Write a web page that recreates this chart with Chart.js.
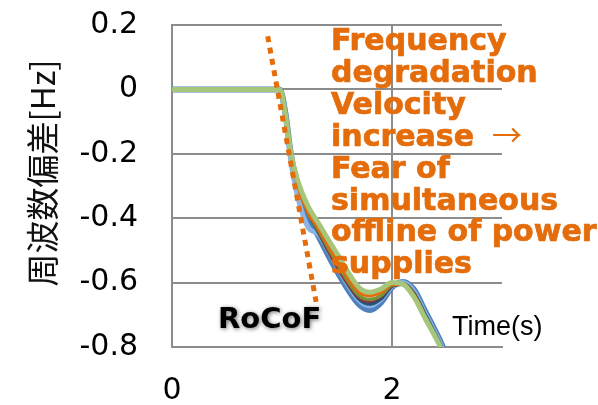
<!DOCTYPE html>
<html>
<head>
<meta charset="utf-8">
<script src="https://cdn.jsdelivr.net/npm/chart.js@4.4.1/dist/chart.umd.min.js"></script>
<style>
  html, body { margin: 0; padding: 0; background: #fff; }
  #wrap { width: 598px; height: 405px; position: relative; }
</style>
</head>
<body>
<div id="wrap"><canvas id="freqChart"></canvas></div>
<script>
// time axis (s) shared by all simulated cases
const TIME = [0, 0.5, 0.98, 1.03, 1.08, 1.14, 1.24, 1.33, 1.5, 1.7, 1.8, 1.9, 2.0, 2.1, 2.2, 2.3, 2.44, 2.6];

// frequency deviation [Hz] per case
const DF_LIGHT_GREEN = [0, 0, 0, -0.075, -0.195, -0.28, -0.365, -0.415, -0.51, -0.615, -0.63, -0.62, -0.60, -0.605, -0.645, -0.71, -0.80, -0.93];
const DF_ORANGE      = [0, 0, 0, -0.074, -0.2, -0.295, -0.385, -0.43, -0.53, -0.63, -0.64, -0.63, -0.605, -0.605, -0.64, -0.705, -0.80, -0.93];
const DF_OLIVE       = [0, 0, 0, -0.073, -0.195, -0.29, -0.378, -0.435, -0.54, -0.64, -0.652, -0.64, -0.608, -0.605, -0.638, -0.705, -0.80, -0.93];
const DF_RED         = [0, 0, 0, -0.072, -0.195, -0.29, -0.38, -0.44, -0.55, -0.645, -0.657, -0.642, -0.61, -0.605, -0.635, -0.705, -0.80, -0.93];
const DF_DARK_BLUE   = [0, 0, 0, -0.07, -0.19, -0.285, -0.375, -0.435, -0.545, -0.65, -0.665, -0.65, -0.61, -0.605, -0.635, -0.70, -0.795, -0.925];
const DF_TEAL        = [0, 0, 0, -0.07, -0.19, -0.29, -0.39, -0.445, -0.55, -0.652, -0.668, -0.65, -0.612, -0.603, -0.632, -0.698, -0.792, -0.92];
const DF_LIGHT_BLUE  = [0, 0, 0, -0.08, -0.22, -0.33, -0.43, -0.45, -0.55, -0.655, -0.672, -0.652, -0.612, -0.60, -0.628, -0.695, -0.79, -0.92];
const DF_BLUE        = [0, 0, 0, -0.072, -0.2, -0.3, -0.395, -0.455, -0.565, -0.668, -0.685, -0.662, -0.615, -0.598, -0.622, -0.688, -0.783, -0.91];

// RoCoF guide line (two end points)
const ROCOF_T  = [0.87, 1.31];
const ROCOF_DF = [0.165, -0.66];

const NOTE_LINES = ['Frequency', 'degradation', 'Velocity', 'increase', 'Fear of', 'simultaneous', 'offline of power', 'supplies'];

function series(label, values, color, width) {
  return {
    label: label,
    data: TIME.map((t, i) => ({ x: t, y: values[i] })),
    borderColor: color,
    borderWidth: width,
    pointRadius: 0,
    fill: false,
    cubicInterpolationMode: 'monotone',
    clip: 0
  };
}

const annotText = {
  id: 'annotText',
  afterDatasetsDraw(chart) {
    const ctx = chart.ctx;
    ctx.save();
    // orange note on the right (a thin stroke makes it a bit heavier)
    ctx.fillStyle = '#E46C0A';
    ctx.strokeStyle = '#E46C0A';
    ctx.lineWidth = 0.7;
    ctx.font = 'bold 30px "DejaVu Sans"';
    ctx.textAlign = 'left';
    ctx.textBaseline = 'alphabetic';
    NOTE_LINES.forEach((t, i) => {
      ctx.fillText(t, 331, 50 + i * 31.9);
      ctx.strokeText(t, 331, 50 + i * 31.9);
    });
    ctx.font = '30px "Noto Sans CJK JP"';
    ctx.fillText('\u2192', 492, 50 + 3 * 31.9);

    // Time(s)
    ctx.fillStyle = '#000';
    ctx.font = '27px "Liberation Sans"';
    ctx.fillText('Time(s)', 452, 335);

    // RoCoF with soft shadow
    ctx.save();
    ctx.shadowColor = 'rgba(0,0,0,0.55)';
    ctx.shadowBlur = 4;
    ctx.shadowOffsetX = 1;
    ctx.shadowOffsetY = 1;
    ctx.font = 'bold 29px "DejaVu Sans"';
    ctx.fillStyle = '#000';
    ctx.fillText('RoCoF', 218, 328);
    ctx.restore();

    // y axis title
    ctx.translate(42, 173);
    ctx.rotate(-Math.PI / 2);
    ctx.textAlign = 'center';
    ctx.textBaseline = 'middle';
    ctx.font = '33px "Noto Sans CJK JP"';
    ctx.fillStyle = '#111';
    ctx.fillText('周波数偏差[Hz]', 0, 0);
    ctx.restore();
  }
};

const rocof = {
  label: 'RoCoF',
  data: ROCOF_T.map((t, i) => ({ x: t, y: ROCOF_DF[i] })),
  borderColor: '#E46C0A',
  borderWidth: 5,
  borderDash: [6, 5.5],
  borderCapStyle: 'butt',
  pointRadius: 0,
  tension: 0,
  clip: false
};

new Chart(document.getElementById('freqChart'), {
  type: 'line',
  data: {
    datasets: [
      rocof,
      series('case 1', DF_LIGHT_GREEN, '#A6C77B', 5),
      series('case 2', DF_ORANGE, '#E46C0A', 3.5),
      series('case 3', DF_OLIVE, '#77933C', 3.5),
      series('case 4', DF_RED, '#943634', 3.5),
      series('case 5', DF_DARK_BLUE, '#2C4D75', 3.5),
      series('case 6', DF_TEAL, '#31859C', 3.5),
      series('case 7', DF_LIGHT_BLUE, '#8EB4E3', 5),
      series('case 8', DF_BLUE, '#4F81BD', 6)
    ]
  },
  options: {
    responsive: true,
    maintainAspectRatio: false,
    animation: false,
    layout: { padding: { top: 25, right: 96, left: 0, bottom: 0 } },
    plugins: {
      legend: { display: false },
      tooltip: { enabled: false }
    },
    scales: {
      x: {
        type: 'linear',
        min: 0,
        max: 3,
        afterFit: s => { s.height = 58; },
        ticks: {
          stepSize: 2,
          includeBounds: false,
          color: '#000',
          padding: 26,
          font: { family: 'DejaVu Sans', size: 30 }
        },
        grid: { color: '#8c8c8c', lineWidth: 2, drawTicks: false },
        border: { color: '#8c8c8c', width: 2 }
      },
      y: {
        min: -0.8,
        max: 0.2,
        afterFit: s => { s.width = 172; },
        ticks: {
          stepSize: 0.2,
          color: '#000',
          padding: 4,
          font: { family: 'DejaVu Sans', size: 30 },
          callback: v => String(Math.round(v * 10) / 10)
        },
        grid: { color: '#8c8c8c', lineWidth: 2, drawTicks: true, tickLength: 30, tickColor: 'rgba(0,0,0,0)' },
        border: { color: '#8c8c8c', width: 2 }
      }
    }
  },
  plugins: [annotText]
});
</script>
</body>
</html>
